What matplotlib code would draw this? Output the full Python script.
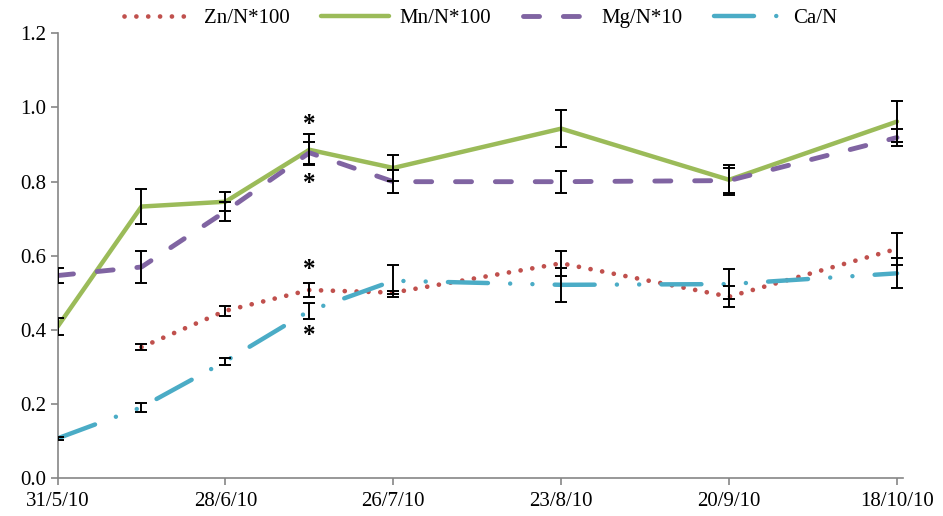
import numpy as np
import matplotlib
matplotlib.use("Agg")
import matplotlib.pyplot as plt

plt.rcParams['font.family'] = ['Liberation Serif', 'DejaVu Serif']

# Sampling dates (2010) and nutrient ratios
dates = np.array(['2010-05-31', '2010-06-14', '2010-06-28', '2010-07-12',
                  '2010-07-26', '2010-08-23', '2010-09-20', '2010-10-18'],
                 dtype='datetime64[D]')

zn = [np.nan, 0.354, 0.452, 0.508, 0.501, 0.580, 0.490, 0.619]
zn_err = [np.nan, 0.008, 0.013, 0.019, 0.005, 0.033, 0.028, 0.044]

mn = [0.409, 0.733, 0.746, 0.886, 0.837, 0.943, 0.805, 0.962]
mn_err = [0.023, 0.046, 0.025, 0.042, 0.035, 0.050, 0.040, 0.055]

mg = [0.547, 0.570, 0.720, 0.878, 0.800, 0.800, 0.803, 0.919]
mg_err = [0.020, 0.042, 0.025, 0.030, 0.031, 0.030, 0.033, 0.022]

ca = [0.108, 0.192, 0.316, 0.452, 0.533, 0.522, 0.524, 0.553]
ca_err = [0.005, 0.012, 0.010, 0.021, 0.043, 0.045, 0.040, 0.040]

tick_dates = np.array(['2010-05-31', '2010-06-28', '2010-07-26',
                       '2010-08-23', '2010-09-20', '2010-10-18'],
                      dtype='datetime64[D]')
tick_labels = ['31/5/10', '28/6/10', '26/7/10', '23/8/10', '20/9/10', '18/10/10']

red = '#C0504D'
green = '#9BBB59'
purple = '#8064A2'
cyan = '#4BACC6'
axis_grey = '#868686'

fig = plt.figure(figsize=(9.43, 5.16), dpi=100)
ax = fig.add_axes([0.061, 0.0727, 0.8966, 0.8628])

l_zn, = ax.plot(dates, zn, color=red, lw=3.4, linestyle=(0, (0.01, 2.5)),
                dash_capstyle='round', label='Zn/N*100', zorder=3)
l_mn, = ax.plot(dates, mn, color=green, lw=3.2, solid_capstyle='round',
                solid_joinstyle='round', label='Mn/N*100', zorder=3)
l_mg, = ax.plot(dates, mg, color=purple, lw=3.5, linestyle=(0, (3.3, 4.9)),
                dash_capstyle='round', label='Mg/N*10', zorder=3)
l_ca, = ax.plot(dates, ca, color=cyan, lw=3.2,
                linestyle=(0, (9.0, 5.0, 0.01, 5.0, 0.01, 5.0)),
                dash_capstyle='round', label='Ca/N', zorder=3)

for vals, errs in [(zn, zn_err), (mn, mn_err), (mg, mg_err), (ca, ca_err)]:
    ax.errorbar(dates, vals, yerr=errs, fmt='none', ecolor='black',
                elinewidth=1.4, capsize=4.5, capthick=1.4, zorder=4)

# significance marks on the 12/7 sampling
d = dates[3]
star = dict(ha='center', va='center', fontsize=18, fontweight='bold',
            textcoords='offset points')
ax.annotate('*', (d, mn[3] + mn_err[3]), xytext=(0, 7), **star)
ax.annotate('*', (d, mg[3] - mg_err[3]), xytext=(0, -14), **star)
ax.annotate('*', (d, zn[3] + zn_err[3]), xytext=(0, 10), **star)
ax.annotate('*', (d, ca[3] - ca_err[3]), xytext=(0, -12), **star)

ax.set_xlim(dates[0], dates[-1] + np.timedelta64(1, 'D'))
ax.set_ylim(0, 1.2)
ax.set_yticks(np.arange(0, 1.21, 0.2))
ax.set_yticklabels([f'{v:.1f}' for v in np.arange(0, 1.21, 0.2)])
ax.set_xticks(tick_dates, labels=tick_labels)

for side in ['top', 'right']:
    ax.spines[side].set_visible(False)
for side in ['left', 'bottom']:
    ax.spines[side].set_color(axis_grey)
    ax.spines[side].set_linewidth(1.2)
ax.tick_params(axis='both', colors=axis_grey, labelcolor='black',
               labelsize=15, length=5, width=1.2, direction='out')
ax.tick_params(axis='x', pad=5)
ax.tick_params(axis='y', pad=3)

fig.legend(handles=[l_zn, l_mn, l_mg, l_ca], loc='center',
           bbox_to_anchor=(481 / 943, 1 - 18 / 516), ncol=4, frameon=False,
           fontsize=15, handlelength=3.3, handletextpad=0.5,
           columnspacing=1.5)

fig.savefig('out.png', dpi=100)
